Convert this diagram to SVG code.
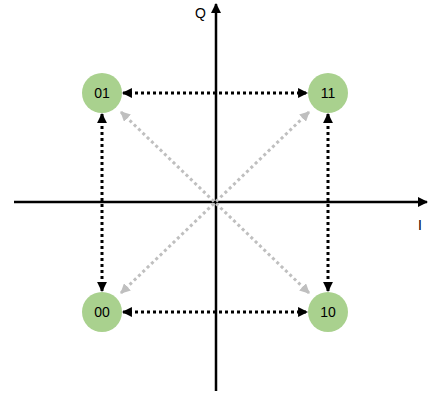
<svg xmlns="http://www.w3.org/2000/svg" width="429" height="401" viewBox="0 0 429 401">
<style>
.axis{stroke:#000;stroke-width:2.5;fill:none}
.dot{stroke:#000;stroke-width:3;stroke-dasharray:3 3;fill:none}
.gray{stroke:#bfbfbf;stroke-width:3;stroke-dasharray:3 3;fill:none}
.node circle{fill:#a9d18e}
.node text{font-family:"Liberation Sans",Arial,sans-serif;font-size:14px;fill:#000;text-anchor:middle;dominant-baseline:central}
.lbl{font-family:"Liberation Sans",Arial,sans-serif;font-size:14px;fill:#000}
</style>
<defs>
<marker id="ab" viewBox="0 0 10 10" refX="9" refY="5" markerWidth="3.3" markerHeight="3.3" orient="auto-start-reverse" markerUnits="strokeWidth"><path d="M0,0 L10,5 L0,10 z" fill="#000"/></marker>
<marker id="ag" viewBox="0 0 10 10" refX="9" refY="5" markerWidth="3.3" markerHeight="3.3" orient="auto-start-reverse" markerUnits="strokeWidth"><path d="M0,0 L10,5 L0,10 z" fill="#bfbfbf"/></marker>
<marker id="ax" viewBox="0 0 10 10" refX="9" refY="5" markerWidth="4" markerHeight="4" orient="auto" markerUnits="strokeWidth"><path d="M0,0 L10,5 L0,10 z" fill="#000"/></marker>
</defs>
<g id="axes">
<line class="axis" x1="216" y1="391" x2="216" y2="4" marker-end="url(#ax)"/>
<line class="axis" x1="14" y1="202" x2="427" y2="202" marker-end="url(#ax)"/>
<text class="lbl" x="195" y="18">Q</text>
<text class="lbl" x="418" y="230">I</text>
</g>
<g id="connectors">
<line class="gray" x1="121" y1="112" x2="309" y2="293" marker-start="url(#ag)" marker-end="url(#ag)"/>
<line class="gray" x1="121" y1="293" x2="309" y2="112" marker-start="url(#ag)" marker-end="url(#ag)"/>
<line class="dot" x1="123" y1="93" x2="307" y2="93" marker-start="url(#ab)" marker-end="url(#ab)"/>
<line class="dot" x1="123" y1="312" x2="307" y2="312" marker-start="url(#ab)" marker-end="url(#ab)"/>
<line class="dot" x1="102" y1="114" x2="102" y2="291" marker-start="url(#ab)" marker-end="url(#ab)"/>
<line class="dot" x1="328" y1="114" x2="328" y2="291" marker-start="url(#ab)" marker-end="url(#ab)"/>
</g>
<g id="n01" class="node"><circle cx="102" cy="93" r="20"/><text x="102" y="93">01</text></g>
<g id="n11" class="node"><circle cx="328" cy="93" r="20"/><text x="328" y="93">11</text></g>
<g id="n00" class="node"><circle cx="102" cy="312" r="20"/><text x="102" y="312">00</text></g>
<g id="n10" class="node"><circle cx="328" cy="312" r="20"/><text x="328" y="312">10</text></g>
</svg>
